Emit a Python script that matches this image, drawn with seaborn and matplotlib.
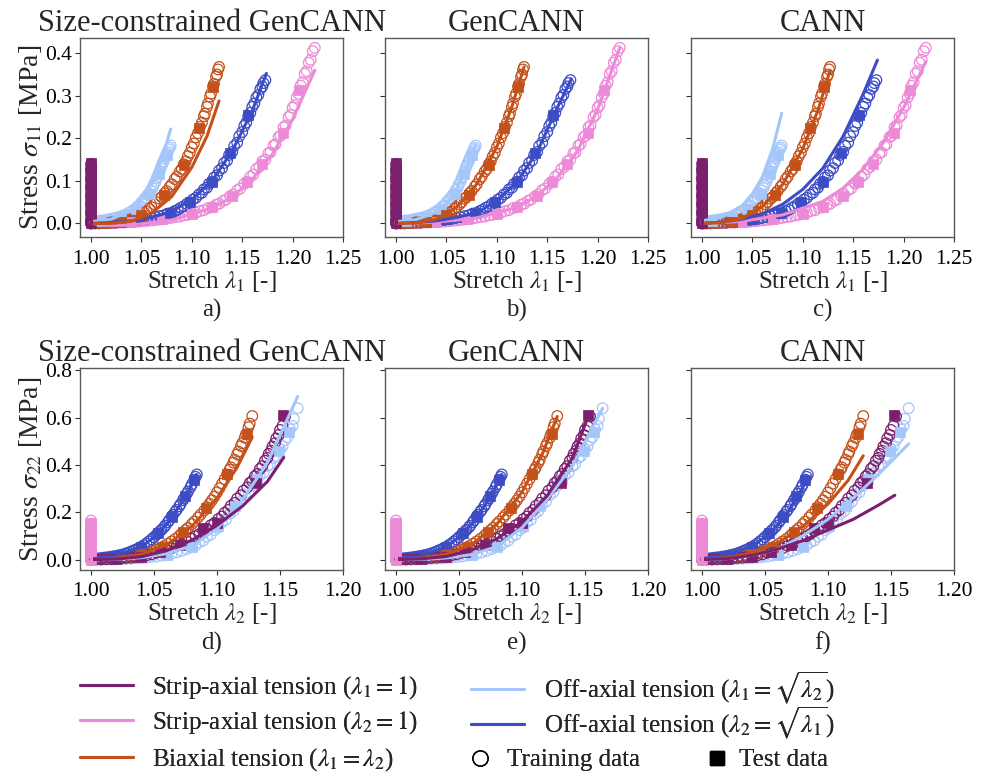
import numpy as np
import pandas as pd
import matplotlib
matplotlib.use("Agg")
import matplotlib.pyplot as plt
from matplotlib.lines import Line2D
import seaborn as sns

# ---------------- colours ----------------
C_PURPLE = "#7b1f6e"
C_PINK = "#ec8ad8"
C_ORANGE = "#c4501a"
C_LBLUE = "#a4c6fa"
C_BLUE = "#3b4cc4"

titles = ["Size-constrained GenCANN", "GenCANN", "CANN"]
panel_letters = ["a)", "b)", "c)", "d)", "e)", "f)"]
legend_labels = [
    r"Strip-axial tension ($\lambda_1 = 1$)",
    r"Strip-axial tension ($\lambda_2 = 1$)",
    r"Biaxial tension ($\lambda_1 = \lambda_2$)",
    r"Off-axial tension ($\lambda_1 = \sqrt{\lambda_2}$)",
    r"Off-axial tension ($\lambda_2 = \sqrt{\lambda_1}$)",
]
marker_labels = ["Training data", "Test data"]
top_xticks = [1.00, 1.05, 1.10, 1.15, 1.20, 1.25]
top_yticks = [0.0, 0.1, 0.2, 0.3, 0.4]
bot_xticks = [1.00, 1.05, 1.10, 1.15, 1.20]
bot_yticks = [0.0, 0.2, 0.4, 0.6, 0.8]

# ================= TOP ROW: sigma_11 vs lambda_1 =================
# strip-axial lambda_1 = 1 (purple)
top_purple_train_x = [1.0] * 15
top_purple_train_y = [0.000, 0.010, 0.020, 0.030, 0.040, 0.050, 0.060, 0.070, 0.080, 0.090, 0.100, 0.110, 0.120, 0.130, 0.140]
top_purple_train2_x = [1.0] * 7
top_purple_train2_y = [0.005, 0.025, 0.045, 0.065, 0.085, 0.105, 0.125]
top_purple_test_x = [1.0] * 15
top_purple_test_y = [0.000, 0.010, 0.020, 0.030, 0.040, 0.050, 0.060, 0.070, 0.080, 0.090, 0.100, 0.110, 0.120, 0.130, 0.142]
top_purple_model_x = [1.0, 1.0]
top_purple_sc = [0.0, 0.14]
top_purple_gen = [0.0, 0.14]
top_purple_cann = [0.0, 0.14]

# strip-axial lambda_2 = 1 (pink)
top_pink_train_x = [1.000, 1.008, 1.016, 1.024, 1.032, 1.040, 1.048, 1.056, 1.064, 1.072, 1.080, 1.088, 1.096, 1.104,
                    1.112, 1.120, 1.127, 1.134, 1.141, 1.148, 1.155, 1.161, 1.167, 1.173, 1.178, 1.183, 1.188, 1.193,
                    1.198, 1.202, 1.206, 1.210, 1.214, 1.218, 1.222]
top_pink_train_y = [0.000, 0.000, 0.001, 0.001, 0.002, 0.003, 0.004, 0.006, 0.008, 0.010, 0.013, 0.016, 0.020, 0.025,
                    0.031, 0.038, 0.046, 0.056, 0.068, 0.082, 0.098, 0.115, 0.133, 0.150, 0.167, 0.186, 0.206, 0.230,
                    0.255, 0.278, 0.305, 0.332, 0.358, 0.385, 0.413]
top_pink_train2_x = [1.004, 1.012, 1.020, 1.028, 1.036, 1.044, 1.052, 1.060, 1.068, 1.076, 1.084, 1.092, 1.100, 1.108,
                     1.116, 1.124, 1.131, 1.138, 1.145, 1.152, 1.158, 1.164, 1.170, 1.176, 1.181, 1.186, 1.191, 1.196,
                     1.200, 1.204, 1.208, 1.212, 1.216, 1.220]
top_pink_train2_y = [0.000, 0.001, 0.001, 0.002, 0.003, 0.004, 0.005, 0.007, 0.009, 0.012, 0.015, 0.019, 0.023, 0.029,
                     0.036, 0.044, 0.053, 0.064, 0.078, 0.093, 0.110, 0.128, 0.146, 0.165, 0.183, 0.203, 0.226, 0.250,
                     0.272, 0.296, 0.324, 0.352, 0.378, 0.405]
top_pink_test_x = [1.040, 1.070, 1.100, 1.120, 1.140, 1.155, 1.170, 1.190, 1.206]
top_pink_test_y = [0.003, 0.010, 0.022, 0.038, 0.065, 0.098, 0.140, 0.213, 0.313]
top_pink_model_x = [1.000, 1.020, 1.040, 1.080, 1.120, 1.140, 1.160, 1.180, 1.200, 1.222]
top_pink_sc = [0.000, -0.005, -0.004, 0.008, 0.036, 0.062, 0.104, 0.163, 0.245, 0.360]
top_pink_gen = [0.000, 0.001, 0.003, 0.013, 0.038, 0.065, 0.108, 0.170, 0.268, 0.413]
top_pink_cann = [0.000, 0.002, 0.005, 0.020, 0.052, 0.083, 0.128, 0.190, 0.272, 0.380]

# biaxial (orange)
top_orange_train_x = [1.000, 1.008, 1.016, 1.024, 1.030, 1.035, 1.040, 1.045, 1.050, 1.055, 1.060, 1.065, 1.070,
                      1.075, 1.080, 1.085, 1.090, 1.094, 1.098, 1.102, 1.106, 1.110, 1.113, 1.116, 1.119, 1.122,
                      1.125, 1.127]
top_orange_train_y = [0.000, 0.000, 0.001, 0.002, 0.004, 0.007, 0.010, 0.015, 0.020, 0.028, 0.038, 0.050, 0.062,
                      0.076, 0.092, 0.110, 0.128, 0.146, 0.166, 0.188, 0.212, 0.237, 0.258, 0.282, 0.305, 0.328,
                      0.350, 0.368]
top_orange_train2_x = [1.004, 1.012, 1.020, 1.027, 1.033, 1.038, 1.043, 1.048, 1.053, 1.058, 1.063, 1.068, 1.073,
                       1.078, 1.083, 1.088, 1.092, 1.096, 1.100, 1.104, 1.108, 1.112, 1.115, 1.118, 1.121, 1.124, 1.126]
top_orange_train2_y = [0.000, 0.001, 0.002, 0.003, 0.006, 0.009, 0.013, 0.018, 0.025, 0.034, 0.045, 0.058, 0.071,
                       0.086, 0.104, 0.122, 0.139, 0.158, 0.179, 0.202, 0.227, 0.252, 0.274, 0.298, 0.322, 0.345, 0.362]
top_orange_test_x = [1.030, 1.050, 1.072, 1.092, 1.107, 1.121]
top_orange_test_y = [0.004, 0.020, 0.067, 0.137, 0.224, 0.321]
top_orange_model_x = [1.000, 1.020, 1.040, 1.060, 1.080, 1.100, 1.115, 1.127]
top_orange_sc = [0.000, 0.000, 0.005, 0.024, 0.063, 0.132, 0.205, 0.288]
top_orange_gen = [0.000, 0.001, 0.010, 0.038, 0.092, 0.180, 0.275, 0.368]
top_orange_cann = [0.000, 0.002, 0.012, 0.040, 0.092, 0.176, 0.266, 0.360]

# off-axial lambda_1 = sqrt(lambda_2) (light blue)
top_lblue_train_x = [1.000, 1.004, 1.008, 1.012, 1.016, 1.020, 1.024, 1.028, 1.032, 1.036, 1.040, 1.044, 1.048,
                     1.052, 1.055, 1.058, 1.061, 1.064, 1.066, 1.068, 1.070, 1.072, 1.074, 1.076, 1.078, 1.079]
top_lblue_train_y = [0.004, 0.005, 0.005, 0.006, 0.008, 0.009, 0.011, 0.013, 0.016, 0.020, 0.026, 0.033, 0.042,
                     0.053, 0.061, 0.070, 0.083, 0.098, 0.110, 0.122, 0.135, 0.146, 0.157, 0.168, 0.178, 0.183]
top_lblue_train2_x = [1.002, 1.006, 1.010, 1.014, 1.018, 1.022, 1.026, 1.030, 1.034, 1.038, 1.042, 1.046, 1.050,
                      1.053, 1.056, 1.059, 1.062, 1.065, 1.067, 1.069, 1.071, 1.073, 1.075, 1.077]
top_lblue_train2_y = [0.005, 0.006, 0.007, 0.008, 0.010, 0.012, 0.014, 0.017, 0.021, 0.026, 0.032, 0.040, 0.050,
                      0.058, 0.067, 0.078, 0.091, 0.106, 0.118, 0.130, 0.142, 0.153, 0.164, 0.174]
top_lblue_test_x = [1.010, 1.030, 1.045, 1.058, 1.067, 1.075]
top_lblue_test_y = [0.006, 0.014, 0.035, 0.070, 0.115, 0.160]
top_lblue_model_x = [1.000, 1.020, 1.040, 1.050, 1.060, 1.070, 1.079]
top_lblue_sc = [0.004, 0.010, 0.030, 0.055, 0.092, 0.150, 0.222]
top_lblue_gen = [0.004, 0.009, 0.026, 0.047, 0.080, 0.132, 0.185]
top_lblue_cann = [0.006, 0.015, 0.042, 0.070, 0.110, 0.175, 0.259]

# off-axial lambda_2 = sqrt(lambda_1) (blue)
top_blue_train_x = [1.000, 1.008, 1.016, 1.024, 1.032, 1.040, 1.048, 1.056, 1.064, 1.072, 1.080, 1.086, 1.092,
                    1.098, 1.104, 1.110, 1.115, 1.120, 1.125, 1.130, 1.135, 1.140, 1.145, 1.150, 1.154, 1.158,
                    1.162, 1.166, 1.170, 1.173]
top_blue_train_y = [0.000, 0.001, 0.001, 0.002, 0.004, 0.006, 0.008, 0.011, 0.015, 0.019, 0.025, 0.032, 0.040,
                    0.049, 0.060, 0.072, 0.084, 0.098, 0.113, 0.130, 0.148, 0.168, 0.190, 0.215, 0.237, 0.260,
                    0.282, 0.302, 0.322, 0.337]
top_blue_train2_x = [1.004, 1.012, 1.020, 1.028, 1.036, 1.044, 1.052, 1.060, 1.068, 1.076, 1.083, 1.089, 1.095,
                     1.101, 1.107, 1.112, 1.117, 1.122, 1.127, 1.132, 1.137, 1.142, 1.147, 1.152, 1.156, 1.160,
                     1.164, 1.168, 1.171]
top_blue_train2_y = [0.001, 0.001, 0.002, 0.003, 0.005, 0.007, 0.010, 0.013, 0.017, 0.023, 0.029, 0.037, 0.046,
                     0.056, 0.068, 0.080, 0.093, 0.108, 0.124, 0.142, 0.161, 0.182, 0.205, 0.229, 0.252, 0.274,
                     0.296, 0.316, 0.330]
top_blue_test_x = [1.030, 1.050, 1.078, 1.098, 1.120, 1.138, 1.156]
top_blue_test_y = [0.004, 0.010, 0.024, 0.051, 0.098, 0.165, 0.255]
top_blue_model_x = [1.000, 1.020, 1.040, 1.060, 1.080, 1.100, 1.120, 1.140, 1.160, 1.174]
top_blue_sc = [0.000, 0.002, 0.006, 0.014, 0.028, 0.056, 0.100, 0.170, 0.265, 0.353]
top_blue_gen = [0.000, 0.002, 0.006, 0.014, 0.025, 0.053, 0.098, 0.168, 0.272, 0.340]
top_blue_cann = [0.000, 0.003, 0.010, 0.022, 0.045, 0.080, 0.130, 0.205, 0.305, 0.384]

# ================= BOTTOM ROW: sigma_22 vs lambda_2 =================
# strip-axial lambda_1 = 1 (purple)
bot_purple_train_x = [1.000, 1.008, 1.016, 1.024, 1.032, 1.040, 1.048, 1.056, 1.064, 1.072, 1.080, 1.086, 1.092,
                      1.098, 1.104, 1.109, 1.114, 1.119, 1.124, 1.128, 1.132, 1.136, 1.140, 1.143, 1.146, 1.149,
                      1.152, 1.154]
bot_purple_train_y = [0.000, 0.001, 0.002, 0.005, 0.008, 0.013, 0.022, 0.034, 0.048, 0.065, 0.088, 0.108, 0.130,
                      0.155, 0.182, 0.210, 0.240, 0.272, 0.305, 0.332, 0.362, 0.395, 0.430, 0.460, 0.492, 0.527,
                      0.565, 0.605]
bot_purple_train2_x = [1.004, 1.012, 1.020, 1.028, 1.036, 1.044, 1.052, 1.060, 1.068, 1.076, 1.083, 1.089, 1.095,
                       1.101, 1.106, 1.111, 1.116, 1.121, 1.126, 1.130, 1.134, 1.138, 1.141, 1.144, 1.147, 1.150]
bot_purple_train2_y = [0.001, 0.002, 0.004, 0.007, 0.011, 0.018, 0.029, 0.042, 0.058, 0.078, 0.099, 0.121, 0.145,
                       0.171, 0.198, 0.227, 0.258, 0.291, 0.324, 0.352, 0.383, 0.418, 0.447, 0.478, 0.512, 0.548]
bot_purple_test_x = [1.020, 1.040, 1.055, 1.071, 1.089, 1.100, 1.131, 1.152]
bot_purple_test_y = [0.003, 0.013, 0.030, 0.061, 0.133, 0.154, 0.322, 0.613]
bot_purple_model_x = [1.000, 1.020, 1.040, 1.060, 1.080, 1.100, 1.120, 1.140, 1.153]
bot_purple_sc = [0.000, 0.002, 0.012, 0.038, 0.082, 0.145, 0.225, 0.330, 0.432]
bot_purple_gen = [0.000, 0.003, 0.013, 0.040, 0.088, 0.160, 0.270, 0.430, 0.612]
bot_purple_cann = [0.000, 0.004, 0.018, 0.045, 0.080, 0.125, 0.170, 0.230, 0.272]

# strip-axial lambda_2 = 1 (pink)
bot_pink_train_x = [1.0] * 17
bot_pink_train_y = [0.000, 0.010, 0.020, 0.030, 0.040, 0.050, 0.060, 0.070, 0.080, 0.090, 0.100, 0.110, 0.120,
                    0.130, 0.140, 0.152, 0.165]
bot_pink_train2_x = [1.0] * 8
bot_pink_train2_y = [0.005, 0.025, 0.045, 0.065, 0.085, 0.105, 0.125, 0.145]
bot_pink_test_x = [1.0] * 9
bot_pink_test_y = [0.000, 0.020, 0.040, 0.060, 0.080, 0.100, 0.120, 0.140, 0.155]
bot_pink_model_x = [1.0, 1.0]
bot_pink_sc = [0.0, 0.16]
bot_pink_gen = [0.0, 0.16]
bot_pink_cann = [0.0, 0.16]

# biaxial (orange)
bot_orange_train_x = [1.000, 1.008, 1.016, 1.024, 1.032, 1.040, 1.046, 1.052, 1.058, 1.064, 1.070, 1.075, 1.080,
                      1.085, 1.090, 1.094, 1.098, 1.102, 1.106, 1.110, 1.113, 1.116, 1.119, 1.122, 1.125, 1.128]
bot_orange_train_y = [0.000, 0.001, 0.004, 0.008, 0.014, 0.022, 0.030, 0.041, 0.057, 0.077, 0.100, 0.124, 0.150,
                      0.178, 0.208, 0.236, 0.266, 0.302, 0.340, 0.380, 0.410, 0.445, 0.480, 0.515, 0.560, 0.607]
bot_orange_train2_x = [1.004, 1.012, 1.020, 1.028, 1.036, 1.043, 1.049, 1.055, 1.061, 1.067, 1.072, 1.077, 1.082,
                       1.087, 1.092, 1.096, 1.100, 1.104, 1.108, 1.111, 1.114, 1.117, 1.120, 1.123, 1.126]
bot_orange_train2_y = [0.001, 0.002, 0.006, 0.011, 0.018, 0.026, 0.036, 0.049, 0.067, 0.088, 0.110, 0.134, 0.161,
                       0.190, 0.222, 0.251, 0.284, 0.321, 0.360, 0.390, 0.422, 0.457, 0.492, 0.530, 0.575]
bot_orange_test_x = [1.040, 1.056, 1.073, 1.091, 1.108, 1.124]
bot_orange_test_y = [0.022, 0.054, 0.118, 0.218, 0.360, 0.532]
bot_orange_model_x = [1.000, 1.020, 1.040, 1.060, 1.080, 1.100, 1.116, 1.128]
bot_orange_sc = [0.000, 0.006, 0.022, 0.062, 0.140, 0.260, 0.390, 0.518]
bot_orange_gen = [0.000, 0.006, 0.022, 0.063, 0.150, 0.285, 0.445, 0.605]
bot_orange_cann = [0.000, 0.008, 0.028, 0.070, 0.140, 0.235, 0.335, 0.439]

# off-axial lambda_1 = sqrt(lambda_2) (light blue)
bot_lblue_train_x = [1.000, 1.008, 1.016, 1.024, 1.032, 1.040, 1.048, 1.056, 1.064, 1.072, 1.080, 1.086, 1.092,
                     1.098, 1.104, 1.110, 1.116, 1.122, 1.128, 1.134, 1.140, 1.145, 1.150, 1.154, 1.158, 1.161, 1.164]
bot_lblue_train_y = [0.000, 0.000, 0.001, 0.002, 0.004, 0.007, 0.011, 0.017, 0.025, 0.037, 0.055, 0.073, 0.097,
                     0.125, 0.158, 0.193, 0.232, 0.272, 0.313, 0.355, 0.395, 0.430, 0.468, 0.505, 0.550, 0.595, 0.640]
bot_lblue_train2_x = [1.004, 1.012, 1.020, 1.028, 1.036, 1.044, 1.052, 1.060, 1.068, 1.076, 1.083, 1.089, 1.095,
                      1.101, 1.107, 1.113, 1.119, 1.125, 1.131, 1.137, 1.142, 1.147, 1.152, 1.156, 1.160]
bot_lblue_train2_y = [0.000, 0.000, 0.001, 0.003, 0.005, 0.008, 0.013, 0.020, 0.030, 0.044, 0.060, 0.080, 0.105,
                      0.135, 0.168, 0.205, 0.245, 0.285, 0.327, 0.368, 0.402, 0.438, 0.478, 0.518, 0.565]
bot_lblue_test_x = [1.060, 1.080, 1.101, 1.114, 1.132, 1.149, 1.157]
bot_lblue_test_y = [0.020, 0.054, 0.140, 0.225, 0.339, 0.460, 0.539]
bot_lblue_model_x = [1.000, 1.020, 1.040, 1.060, 1.080, 1.100, 1.120, 1.140, 1.164]
bot_lblue_sc = [0.000, 0.001, 0.008, 0.025, 0.058, 0.130, 0.250, 0.410, 0.689]
bot_lblue_gen = [0.000, 0.001, 0.007, 0.021, 0.055, 0.135, 0.255, 0.395, 0.640]
bot_lblue_cann = [0.000, 0.004, 0.018, 0.045, 0.100, 0.170, 0.260, 0.360, 0.489]

# off-axial lambda_2 = sqrt(lambda_1) (blue)
bot_blue_train_x = [1.000, 1.004, 1.008, 1.012, 1.016, 1.020, 1.024, 1.028, 1.032, 1.036, 1.040, 1.044, 1.048,
                    1.052, 1.055, 1.058, 1.061, 1.064, 1.067, 1.070, 1.073, 1.076, 1.079, 1.082, 1.084]
bot_blue_train_y = [0.003, 0.004, 0.006, 0.009, 0.012, 0.015, 0.020, 0.026, 0.034, 0.043, 0.054, 0.068, 0.085,
                    0.105, 0.121, 0.137, 0.158, 0.182, 0.203, 0.225, 0.251, 0.278, 0.306, 0.338, 0.360]
bot_blue_train2_x = [1.002, 1.006, 1.010, 1.014, 1.018, 1.022, 1.026, 1.030, 1.034, 1.038, 1.042, 1.046, 1.050,
                     1.053, 1.056, 1.059, 1.062, 1.065, 1.068, 1.071, 1.074, 1.077, 1.080, 1.083]
bot_blue_train2_y = [0.004, 0.005, 0.008, 0.010, 0.014, 0.018, 0.023, 0.030, 0.039, 0.049, 0.061, 0.077, 0.095,
                     0.110, 0.126, 0.144, 0.166, 0.189, 0.210, 0.234, 0.260, 0.288, 0.318, 0.350]
bot_blue_test_x = [1.020, 1.040, 1.053, 1.064, 1.075, 1.082]
bot_blue_test_y = [0.015, 0.054, 0.111, 0.182, 0.268, 0.335]
bot_blue_model_x = [1.000, 1.020, 1.040, 1.050, 1.060, 1.070, 1.080, 1.084]
bot_blue_sc = [0.003, 0.015, 0.054, 0.095, 0.150, 0.225, 0.315, 0.360]
bot_blue_gen = [0.003, 0.015, 0.054, 0.095, 0.150, 0.225, 0.315, 0.360]
bot_blue_cann = [0.004, 0.018, 0.058, 0.095, 0.145, 0.215, 0.305, 0.345]

# ---------------- assemble (drawing order) ----------------
top_modes = [
    (C_LBLUE, [(top_lblue_train_x, top_lblue_train_y), (top_lblue_train2_x, top_lblue_train2_y)],
     top_lblue_test_x, top_lblue_test_y, top_lblue_model_x, [top_lblue_sc, top_lblue_gen, top_lblue_cann]),
    (C_PINK, [(top_pink_train_x, top_pink_train_y), (top_pink_train2_x, top_pink_train2_y)],
     top_pink_test_x, top_pink_test_y, top_pink_model_x, [top_pink_sc, top_pink_gen, top_pink_cann]),
    (C_BLUE, [(top_blue_train_x, top_blue_train_y), (top_blue_train2_x, top_blue_train2_y)],
     top_blue_test_x, top_blue_test_y, top_blue_model_x, [top_blue_sc, top_blue_gen, top_blue_cann]),
    (C_ORANGE, [(top_orange_train_x, top_orange_train_y), (top_orange_train2_x, top_orange_train2_y)],
     top_orange_test_x, top_orange_test_y, top_orange_model_x, [top_orange_sc, top_orange_gen, top_orange_cann]),
    (C_PURPLE, [(top_purple_train_x, top_purple_train_y), (top_purple_train2_x, top_purple_train2_y)],
     top_purple_test_x, top_purple_test_y, top_purple_model_x, [top_purple_sc, top_purple_gen, top_purple_cann]),
]
bot_modes = [
    (C_LBLUE, [(bot_lblue_train_x, bot_lblue_train_y), (bot_lblue_train2_x, bot_lblue_train2_y)],
     bot_lblue_test_x, bot_lblue_test_y, bot_lblue_model_x, [bot_lblue_sc, bot_lblue_gen, bot_lblue_cann]),
    (C_BLUE, [(bot_blue_train_x, bot_blue_train_y), (bot_blue_train2_x, bot_blue_train2_y)],
     bot_blue_test_x, bot_blue_test_y, bot_blue_model_x, [bot_blue_sc, bot_blue_gen, bot_blue_cann]),
    (C_ORANGE, [(bot_orange_train_x, bot_orange_train_y), (bot_orange_train2_x, bot_orange_train2_y)],
     bot_orange_test_x, bot_orange_test_y, bot_orange_model_x, [bot_orange_sc, bot_orange_gen, bot_orange_cann]),
    (C_PURPLE, [(bot_purple_train_x, bot_purple_train_y), (bot_purple_train2_x, bot_purple_train2_y)],
     bot_purple_test_x, bot_purple_test_y, bot_purple_model_x, [bot_purple_sc, bot_purple_gen, bot_purple_cann]),
    (C_PINK, [(bot_pink_train_x, bot_pink_train_y), (bot_pink_train2_x, bot_pink_train2_y)],
     bot_pink_test_x, bot_pink_test_y, bot_pink_model_x, [bot_pink_sc, bot_pink_gen, bot_pink_cann]),
]

# ---------------- style ----------------
sns.set_theme(style="ticks")
plt.rcParams["font.family"] = ["Liberation Serif", "DejaVu Serif"]
plt.rcParams["mathtext.fontset"] = "stix"
plt.rcParams["axes.edgecolor"] = "0.35"
plt.rcParams["axes.linewidth"] = 1.0
plt.rcParams["xtick.color"] = "0.2"
plt.rcParams["ytick.color"] = "0.2"
plt.rcParams["xtick.labelcolor"] = "black"
plt.rcParams["ytick.labelcolor"] = "black"

FS_TICK = 15.5
FS_XLAB = 18
FS_YLAB = 20
FS_TITLE = 22
FS_LEG = 18

fig = plt.figure(figsize=(9.9, 7.77), dpi=100)
W, H = 990.0, 777.0
col_left = [80, 385, 691]
ax_w = 263
row_top = [38, 368]
row_h = [199, 202]

axes = []
for r in range(2):
    for c in range(3):
        ax = fig.add_axes([col_left[c] / W, 1 - (row_top[r] + row_h[r]) / H, ax_w / W, row_h[r] / H])
        axes.append(ax)


def draw_panel(ax, modes, model_idx):
    for color, trains, tex, tey, mx, models in modes:
        for trx, tr_y in trains:
            df_tr = pd.DataFrame({"x": trx, "y": tr_y})
            sns.scatterplot(data=df_tr, x="x", y="y", ax=ax, marker="o", s=58,
                            facecolors="none", edgecolors=color, linewidth=0.9, zorder=2, legend=False)
    for color, trains, tex, tey, mx, models in modes:
        df_te = pd.DataFrame({"x": tex, "y": tey})
        sns.scatterplot(data=df_te, x="x", y="y", ax=ax, marker="s", s=50,
                        color=color, edgecolor=color, linewidth=0.5, zorder=3, legend=False)
    for color, trains, tex, tey, mx, models in modes:
        df_m = pd.DataFrame({"x": mx, "y": models[model_idx]})
        sns.lineplot(data=df_m, x="x", y="y", ax=ax, color=color, lw=2.2, sort=False,
                     estimator=None, zorder=4, legend=False)


for i, ax in enumerate(axes):
    r, c = divmod(i, 3)
    modes = top_modes if r == 0 else bot_modes
    draw_panel(ax, modes, c)
    if r == 0:
        ax.set_xlim(0.989, 1.25)
        ax.set_ylim(-0.032, 0.436)
        ax.set_xticks(top_xticks)
        ax.set_yticks(top_yticks)
        ax.set_xticklabels([f"{v:.2f}" for v in top_xticks])
        ax.set_xlabel("Stretch $\\lambda_1$ [-]\n" + panel_letters[i], fontsize=FS_XLAB, linespacing=1.3)
        ylab = "Stress $\\sigma_{11}$ [MPa]"
        title_pad = 1.5
    else:
        ax.set_xlim(0.9913, 1.20)
        ax.set_ylim(-0.044, 0.81)
        ax.set_xticks(bot_xticks)
        ax.set_yticks(bot_yticks)
        ax.set_xticklabels([f"{v:.2f}" for v in bot_xticks])
        ax.set_xlabel("Stretch $\\lambda_2$ [-]\n" + panel_letters[i], fontsize=FS_XLAB, linespacing=1.3)
        ylab = "Stress $\\sigma_{22}$ [MPa]"
        title_pad = 4.5
    if c == 0:
        ax.set_yticklabels([f"{v:.1f}" for v in (top_yticks if r == 0 else bot_yticks)])
        ax.set_ylabel(ylab, fontsize=FS_YLAB, labelpad=1)
    else:
        ax.set_yticklabels([])
        ax.set_ylabel("")
    ax.tick_params(axis="x", labelsize=FS_TICK, length=3.5, width=0.8, pad=5.5)
    ax.tick_params(axis="y", labelsize=FS_TICK, length=3.5, width=0.8, pad=2)
    ax.set_title(titles[c], fontsize=FS_TITLE, pad=title_pad)
    ax.xaxis.labelpad = 0

# ---------------- legends (one entry each, placed like the reference) ----------------
line_colors = [C_PURPLE, C_PINK, C_ORANGE, C_LBLUE, C_BLUE]
line_pos = [(80, 688), (80, 723), (80, 760), (471, 688), (471, 723)]
for col, lab, (px, py) in zip(line_colors, legend_labels, line_pos):
    lg = fig.legend([Line2D([0], [0], color=col, lw=2.2)], [lab], loc="center left",
                    bbox_to_anchor=(px / W, 1 - py / H), frameon=False, fontsize=FS_LEG,
                    handlelength=2.1, handletextpad=0.8, borderpad=0, borderaxespad=0)
    fig.add_artist(lg)

marker_handles = [
    Line2D([0], [0], ls="none", marker="o", ms=11, mfc="none", mec="black", mew=1.0),
    Line2D([0], [0], ls="none", marker="s", ms=10, mfc="black", mec="black"),
]
marker_pos = [(467, 760), (704, 760)]
marker_pads = [0.6, 0.4]
for h, lab, (px, py), pd_ in zip(marker_handles, marker_labels, marker_pos, marker_pads):
    lg = fig.legend([h], [lab], loc="center left", bbox_to_anchor=(px / W, 1 - py / H), frameon=False,
                    fontsize=FS_LEG, handlelength=1.0, handletextpad=pd_, borderpad=0, borderaxespad=0)
    fig.add_artist(lg)

fig.savefig("out.png", dpi=100)
